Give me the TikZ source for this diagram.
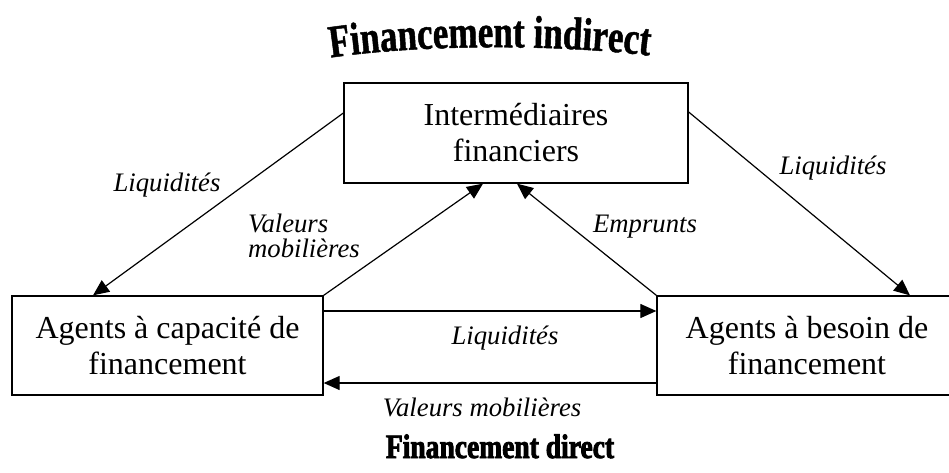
\documentclass[tikz,border=0pt]{standalone}
\usepackage{fontspec}
\setmainfont{Liberation Serif}
\newfontfamily\titlefont{Liberation Serif}[FakeStretch=0.76, FakeBold=1]
\newfontfamily\basfont{Liberation Serif}[FakeStretch=0.81, FakeBold=2.5]
\usetikzlibrary{arrows.meta,decorations.text}
\begin{document}
\begin{tikzpicture}[x=1pt, y=-1pt,
    agent/.style={draw, line width=1.3pt, align=center, font=\fontsize{32}{36}\selectfont},
    flux/.style={-{Triangle[length=16pt,width=14pt]}, line width=1.2pt},
    etiq/.style={font=\fontsize{26.7}{25}\selectfont\itshape}]
    \useasboundingbox (0,0) rectangle (949,473);

    % titles
    \path[decoration={text along path, text align=center,
        text={|\titlefont\bfseries\fontsize{46}{46}\selectfont|Financement indirect}}, decorate]
        (328,58) .. controls (420,44) and (560,44) .. (652,56);
    \node[font=\basfont\bfseries\fontsize{34}{34}\selectfont, anchor=base] (direct) at (500,458) {Financement direct};

    % boxes
    \node[agent, minimum width=344pt, minimum height=100pt] (inter) at (516,133) {Interm\'ediaires\\financiers};
    \node[agent, minimum width=311pt, minimum height=99pt] (capa) at (167.5,345.5) {Agents \`a capacit\'e de\\financement};
    \node[agent, minimum width=300pt, minimum height=99pt] (besoin) at (807,345.5) {Agents \`a besoin de\\financement};

    % flows
    \draw[flux] ([yshift=20pt]inter.west) -- ([xshift=-74.5pt]capa.north);
    \draw[flux] ([yshift=21pt]inter.east) -- ([xshift=103pt]besoin.north);
    \draw[flux] (capa.north east) -- ([xshift=-33pt]inter.south);
    \draw[flux] (besoin.north west) -- ([xshift=1pt]inter.south);
    \draw[flux] ([yshift=34.5pt]capa.east) -- ([yshift=34.5pt]besoin.west);
    \draw[flux] ([yshift=-37.5pt]besoin.west) -- ([yshift=-37.5pt]capa.east);

    % labels
    \node[etiq, anchor=base] (liq1) at (167,191) {Liquidit\'es};
    \node[etiq, anchor=base] (liq2) at (833,175) {Liquidit\'es};
    \node[etiq, anchor=base] (liq3) at (505,344) {Liquidit\'es};
    \node[etiq, align=left] (val1) at (304,236) {Valeurs\\mobili\`eres};
    \node[etiq, anchor=base] (emp) at (645,232) {Emprunts};
    \node[etiq, anchor=base] (val2) at (482,416) {Valeurs mobili\`eres};
\end{tikzpicture}
\end{document}
